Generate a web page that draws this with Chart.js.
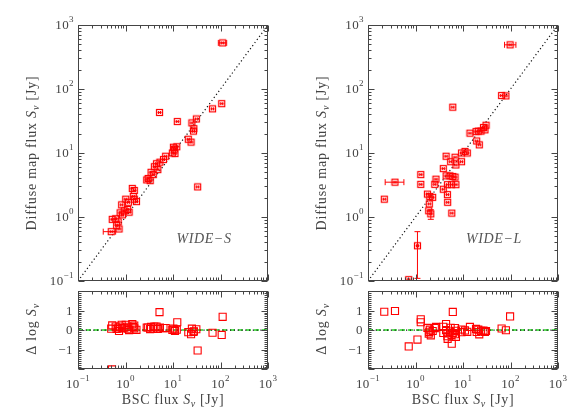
<!DOCTYPE html>
<html lang="en">
<head>
<meta charset="UTF-8">
<title>Diffuse map flux vs BSC flux</title>
<script src="https://cdn.jsdelivr.net/npm/chart.js"></script>
<style>
  body { margin: 0; background: #fff; }
  .wrap { position: relative; width: 581px; height: 419px; overflow: hidden; }
  .box { position: absolute; }
</style>
</head>
<body>
<div class="wrap">
  <div class="box" style="left:0;top:0;width:290px;height:286px"><canvas id="mainS"></canvas></div>
  <div class="box" style="left:0;top:285px;width:290px;height:134px"><canvas id="resS"></canvas></div>
  <div class="box" style="left:290px;top:0;width:291px;height:286px"><canvas id="mainL"></canvas></div>
  <div class="box" style="left:290px;top:285px;width:291px;height:134px"><canvas id="resL"></canvas></div>
</div>

<script>
// WIDE-S: BSC flux, diffuse map flux (Jy) and Delta log S
const wideS_bsc = [111, 106, 68, 5.2, 12.3, 31, 25, 27.5, 27, 21, 24, 33, 10.2, 12, 10.7, 9.7, 11, 7.0, 6.3, 5.3,
  4.5, 4.05, 4.8, 3.45, 3.85, 3.0, 2.8, 3.3, 1.39, 1.53, 1.46, 1.53, 1.7, 1.01, 1.15, 0.83, 1.11, 1.19, 0.77, 0.86,
  0.94, 0.525, 0.62, 0.7, 0.65, 0.73, 0.5, 0.52];
const wideS_map = [525, 59, 49, 43, 31, 34, 29.5, 24, 22, 16.4, 14.8, 2.95, 12.3, 12.5, 11.5, 10, 9.8, 8.9, 7.9, 7.2,
  6.8, 6.1, 5.5, 5.0, 4.6, 4.0, 3.8, 3.7, 2.8, 2.6, 2.1, 1.9, 1.74, 1.9, 1.7, 1.55, 1.31, 1.19, 1.16, 1.08,
  1.25, 0.92, 0.94, 0.84, 0.74, 0.65, 0.59, 0.005];
const wideS_dlog = [0.68, -0.25, -0.14, 0.92, 0.40, 0.04, 0.07, -0.06, -0.09, -0.11, -0.21, -1.05, 0.08, 0.02, 0.03, 0.01, -0.05, 0.10, 0.10, 0.13,
  0.18, 0.18, 0.06, 0.16, 0.08, 0.13, 0.13, 0.05, 0.30, 0.23, 0.16, 0.09, 0.01, 0.27, 0.17, 0.27, 0.07, 0.00, 0.18, 0.10,
  0.12, 0.24, 0.18, 0.08, 0.06, -0.05, 0.07, -2.02];
// error bars: [point index, low, high]
const wideS_xErr = [[0, 90, 135], [46, 0.34, 0.62]];
const wideS_yErr = [];

// WIDE-L
const wideL_bsc = [98, 65, 80, 6.1, 27, 30.5, 21, 18.8, 14, 29, 24, 19.4, 22, 11, 12.3, 9.3, 4.4, 6.8, 5.5, 7.1,
  9.3, 3.85, 4.4, 5.3, 6.1, 6.8, 7.1, 5.75, 4.7, 3.85, 4.7, 4.75, 5.8, 2.7, 2.55, 1.78, 2.0, 2.3, 1.95, 1.9,
  2.1, 1.29, 1.29, 0.37, 0.22, 1.1, 0.72];
const wideL_map = [490, 79, 78, 52, 25, 27.2, 22, 21.6, 20.4, 23, 22, 15.4, 13.4, 10.6, 10, 10, 8.9, 8.6, 7.3, 6.5,
  7.3, 5.7, 4.4, 4.4, 4.3, 4.2, 3.2, 3.2, 3.2, 2.72, 2.24, 1.7, 1.15, 3.9, 3.24, 2.28, 2.1, 2.03, 1.6, 1.25,
  1.12, 4.6, 3.24, 3.5, 1.9, 0.355, 0.105];
const wideL_dlog = [0.70, 0.08, -0.01, 0.93, -0.03, -0.05, 0.02, 0.06, 0.16, -0.10, -0.04, -0.10, -0.22, -0.02, -0.09, 0.03, 0.31, 0.10, 0.12, -0.04,
  -0.11, 0.17, 0.00, -0.08, -0.15, -0.21, -0.35, -0.25, -0.17, -0.15, -0.32, -0.45, -0.70, 0.16, 0.10, 0.11, 0.02, -0.05, -0.09, -0.18,
  -0.27, 0.55, 0.40, 0.98, 0.94, -0.49, -0.84];
const wideL_xErr = [[0, 75, 130], [43, 0.23, 0.57]];
const wideL_yErr = [[40, 0.92, 1.3], [45, 0.11, 0.59]];

// axis ranges
const fluxRange = [0.1, 1000];
const dlogRange = [-2, 2];
const oneToOne = [0.1, 1000];
const zeroLine = [0, 0];

const SERIF = '"Liberation Serif", "Times New Roman", serif';
const INK = '#444';
const RED = '#ff0000';

// square symbol with the small error bar inside
function makeMarker() {
  const c = document.createElement('canvas');
  c.width = 9; c.height = 9;
  const g = c.getContext('2d');
  g.strokeStyle = RED;
  g.lineWidth = 1.2;
  g.strokeRect(1.5, 1.5, 6, 6);
  g.beginPath();
  g.moveTo(2.5, 4.5); g.lineTo(6.5, 4.5);
  g.moveTo(3.5, 3); g.lineTo(3.5, 6);
  g.moveTo(5.5, 3); g.lineTo(5.5, 6);
  g.stroke();
  return c;
}
const marker = makeMarker();

// text pieces: [text, size, style, dy]
function drawParts(ctx, parts, x, y, align, spacing) {
  ctx.letterSpacing = (spacing || 0) + 'px';
  let w = 0;
  parts.forEach(p => { ctx.font = (p[2] || '') + ' ' + p[1] + 'px ' + SERIF; w += ctx.measureText(p[0]).width; });
  let cx = align === 'center' ? x - w / 2 : align === 'right' ? x - w : x;
  parts.forEach(p => {
    ctx.font = (p[2] || '') + ' ' + p[1] + 'px ' + SERIF;
    ctx.fillText(p[0], cx, y + (p[3] || 0));
    cx += ctx.measureText(p[0]).width;
  });
  ctx.letterSpacing = '0px';
}

const sup = e => [['10', 13], [String(e).replace('-', '\u2212'), 9, '', -6]];
const fluxTitle = lead => [[lead, 14], ['S', 14, 'italic'], ['\u03bd', 10, 'italic', 4], [' [Jy]', 14]];
const dlogTitle = [['\u0394 log ', 14], ['S', 14, 'italic'], ['\u03bd', 10, 'italic', 4]];

function logTicks(min, max) {
  const out = [];
  for (let d = Math.floor(Math.log10(min)); d <= Math.ceil(Math.log10(max)); d++) {
    for (let m = 1; m <= 9; m++) {
      const v = m * Math.pow(10, d);
      if (v >= min * 0.999 && v <= max * 1.001) out.push({ v, major: m === 1 });
    }
  }
  return out;
}
function linTicks(min, max) {
  const out = [];
  for (let i = Math.round(min * 10); i <= Math.round(max * 10); i++) out.push({ v: i / 10, major: i % 10 === 0 });
  return out;
}

const errorBars = {
  id: 'errorBars',
  afterDatasetsDraw(chart, args, o) {
    if (!o.points) return;
    const { ctx, chartArea: a, scales: { x, y } } = chart;
    const pts = o.points;
    ctx.save();
    ctx.beginPath();
    ctx.rect(a.left, a.top, a.right - a.left, a.bottom - a.top);
    ctx.clip();
    ctx.strokeStyle = RED;
    ctx.lineWidth = 1;
    ctx.beginPath();
    (o.xErr || []).forEach(([i, lo, hi]) => {
      const py = y.getPixelForValue(pts[i].y);
      const x0 = x.getPixelForValue(lo), x1 = x.getPixelForValue(hi);
      ctx.moveTo(x0, py); ctx.lineTo(x1, py);
      ctx.moveTo(x0, py - 3); ctx.lineTo(x0, py + 3);
      ctx.moveTo(x1, py - 3); ctx.lineTo(x1, py + 3);
    });
    (o.yErr || []).forEach(([i, lo, hi]) => {
      const px = x.getPixelForValue(pts[i].x);
      const y0 = y.getPixelForValue(lo), y1 = y.getPixelForValue(hi);
      ctx.moveTo(px, y0); ctx.lineTo(px, y1);
      ctx.moveTo(px - 3, y0); ctx.lineTo(px + 3, y0);
      ctx.moveTo(px - 3, y1); ctx.lineTo(px + 3, y1);
    });
    ctx.stroke();
    ctx.restore();
  }
};

// IDL-like box: frame, inward ticks on all sides, labels, titles
const frameTicks = {
  id: 'frameTicks',
  afterDatasetsDraw(chart, args, o) {
    const { ctx, chartArea: a, scales: { x, y } } = chart;
    ctx.save();
    ctx.strokeStyle = INK;
    ctx.fillStyle = INK;
    ctx.lineWidth = 1;
    const L = Math.round(a.left) + 0.5, R = Math.round(a.right) - 0.5;
    const T = Math.round(a.top) + 0.5, B = Math.round(a.bottom) - 0.5;
    ctx.strokeRect(L, T, R - L, B - T);
    ctx.beginPath();
    const xt = logTicks(x.min, x.max);
    xt.forEach(t => {
      const px = Math.round(x.getPixelForValue(t.v)) + 0.5;
      const len = t.major ? 6 : 3;
      ctx.moveTo(px, B); ctx.lineTo(px, B - len);
      ctx.moveTo(px, T); ctx.lineTo(px, T + len);
    });
    const yt = o.yLog ? logTicks(y.min, y.max) : linTicks(y.min, y.max);
    yt.forEach(t => {
      const py = Math.round(y.getPixelForValue(t.v)) + 0.5;
      const len = t.major ? 6 : 3;
      ctx.moveTo(L, py); ctx.lineTo(L + len, py);
      ctx.moveTo(R, py); ctx.lineTo(R - len, py);
    });
    ctx.stroke();

    ctx.textBaseline = 'middle';
    yt.filter(t => t.major).forEach(t => {
      const py = y.getPixelForValue(t.v);
      if (o.yLog) {
        drawParts(ctx, sup(Math.round(Math.log10(t.v))), a.left - 4, py + 1, 'right', 0.4);
      } else if (Math.abs(t.v) < 2) {
        drawParts(ctx, [[String(t.v).replace('-', '\u2212'), 13]], a.left - 5, py + 1, 'right', 0.4);
      }
    });
    if (o.xLabels) {
      xt.filter(t => t.major).forEach(t => {
        drawParts(ctx, sup(Math.round(Math.log10(t.v))), x.getPixelForValue(t.v), a.bottom + 16, 'center', 0.4);
      });
      drawParts(ctx, fluxTitle('BSC flux '), (a.left + a.right) / 2, a.bottom + 31, 'center', 0.6);
    }
    if (o.yTitle) {
      ctx.save();
      ctx.translate(a.left - 46, o.yTitleY != null ? o.yTitleY : (a.top + a.bottom) / 2);
      ctx.rotate(-Math.PI / 2);
      drawParts(ctx, o.yTitle, 0, 0, 'center', 0.8);
      ctx.restore();
    }
    if (o.tag) {
      ctx.fillStyle = '#555';
      drawParts(ctx, [[o.tag, 14, 'italic']], a.left + 126, 239, 'center', 0.6);
    }
    ctx.restore();
  }
};

function points(xs, ys) {
  return xs.map((v, i) => ({ x: v, y: ys[i] }));
}

function mainChart(id, bsc, map, xErr, yErr, tag, padRight) {
  const pts = points(bsc, map);
  new Chart(document.getElementById(id), {
    type: 'scatter',
    data: {
      datasets: [
        {
          data: pts,
          pointStyle: marker,
          pointRadius: 4,
          clip: 0,
          order: 0
        },
        {
          data: points(oneToOne, oneToOne),
          showLine: true,
          borderColor: '#111',
          borderWidth: 1.2,
          borderDash: [1.2, 2.6],
          pointRadius: 0,
          clip: 0,
          order: 1
        }
      ]
    },
    options: {
      responsive: true,
      maintainAspectRatio: false,
      animation: false,
      events: [],
      layout: { padding: { left: 78, right: padRight, top: 25, bottom: 1 } },
      scales: {
        x: { type: 'logarithmic', min: fluxRange[0], max: fluxRange[1], display: false },
        y: { type: 'logarithmic', min: fluxRange[0], max: fluxRange[1], display: false }
      },
      plugins: {
        legend: { display: false },
        tooltip: { enabled: false },
        errorBars: { points: pts, xErr, yErr },
        frameTicks: { yLog: true, yTitle: fluxTitle('Diffuse map flux '), tag }
      }
    },
    plugins: [errorBars, frameTicks]
  });
}

function residChart(id, bsc, dlog, padRight) {
  new Chart(document.getElementById(id), {
    type: 'scatter',
    data: {
      datasets: [
        {
          data: points(bsc, dlog),
          pointStyle: 'rect',
          pointRadius: 5,
          borderColor: RED,
          backgroundColor: 'rgba(0,0,0,0)',
          borderWidth: 1.1,
          clip: 0,
          order: 0
        },
        {
          data: points(fluxRange, zeroLine),
          showLine: true,
          borderColor: '#111',
          borderWidth: 1.2,
          borderDash: [1.2, 2.6],
          pointRadius: 0,
          clip: 0,
          order: 1
        },
        {
          data: points(fluxRange, zeroLine),
          showLine: true,
          borderColor: '#22dd22',
          borderWidth: 1.5,
          borderDash: [5, 3],
          pointRadius: 0,
          clip: 0,
          order: 2
        }
      ]
    },
    options: {
      responsive: true,
      maintainAspectRatio: false,
      animation: false,
      events: [],
      layout: { padding: { left: 78, right: padRight, top: 0, bottom: 50 } },
      scales: {
        x: { type: 'logarithmic', min: fluxRange[0], max: fluxRange[1], display: false },
        y: { type: 'linear', min: dlogRange[0], max: dlogRange[1], display: false }
      },
      plugins: {
        legend: { display: false },
        tooltip: { enabled: false },
        frameTicks: { yLog: false, xLabels: true, yTitle: dlogTitle, yTitleY: 44 }
      }
    },
    plugins: [frameTicks]
  });
}

mainChart('mainS', wideS_bsc, wideS_map, wideS_xErr, wideS_yErr, 'WIDE\u2212S', 22);
residChart('resS', wideS_bsc, wideS_dlog, 22);
mainChart('mainL', wideL_bsc, wideL_map, wideL_xErr, wideL_yErr, 'WIDE\u2212L', 23);
residChart('resL', wideL_bsc, wideL_dlog, 23);
</script>
</body>
</html>
